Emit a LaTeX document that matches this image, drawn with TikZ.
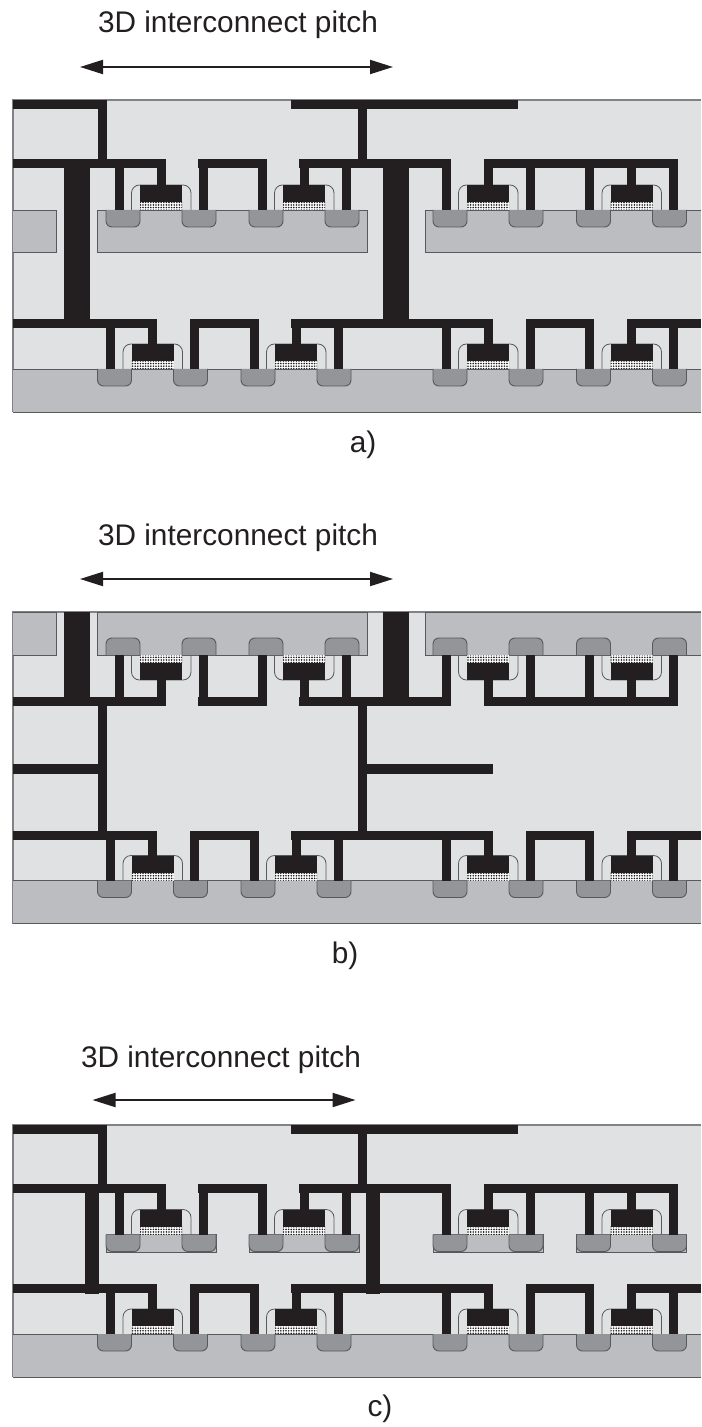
\documentclass[tikz,border=0pt]{standalone}
\usepackage{fontspec}
\setmainfont{Liberation Sans}
\usepackage{xcolor}
\usetikzlibrary{arrows.meta, patterns.meta}
\definecolor{metalblack}{RGB}{35,31,32}
\definecolor{oxidegray}{RGB}{224,225,227}
\definecolor{wafergray}{RGB}{188,189,192}
\definecolor{dopedgray}{RGB}{148,149,152}
\definecolor{edgegray}{RGB}{88,89,91}
\definecolor{bordergray}{RGB}{128,130,133}

% x0, surface, direction into the silicon, outer edge of the wire
\newcommand{\fet}[4]{%
  \draw[spacer] (#1+25.5,#2) -- (#1+25.5,#2-#3*25) -- (#1+85,#2-#3*25) -- (#1+85,#2);
  \foreach \sdx in {#1,#1+76} {
    \draw[doped] (\sdx,#2) -- (\sdx,#2+#3*17) -- (\sdx+34,#2+#3*17) -- (\sdx+34,#2);
  }
  \fill[metal] (#1+34,#2-#3*8) rectangle (#1+76,#2-#3*25);
  \fill[dielectric] (#1+34,#2) rectangle (#1+76,#2-#3*8);
  \fill[metal] (#1+8.5,#2) rectangle (#1+17.5,#4);
  \fill[metal] (#1+50.5,#2-#3*25) rectangle (#1+59.5,#4);
  \fill[metal] (#1+92.5,#2) rectangle (#1+101.5,#4);
}
% top edge, bottom edge of the oxide
\newcommand{\panelbox}[2]{%
  \fill[oxidegray] (13,#1) rectangle (701,#2);
  \draw[border] (13,#2) -- (13,#1) -- (701,#1);
}
% wafer and devices at the bottom, in the coordinates of panel a
\newcommand{\lowertier}{%
  \fill[wafergray] (13,369) rectangle (701,412);
  \draw[waferedge] (13,369) -- (701,369);
  \draw[waferedge] (13,412) -- (701,412);
  \foreach \xf in {97.5,241,433,576.5} {\fet{\xf}{369}{1}{319}}
  \foreach \xa/\xb in {13/157,190/258,291/493,526/594,627/701} {
    \fill[metal] (\xa,319) rectangle (\xb,328.3);
  }
}
% wires of the upper devices, #1 is the upper edge
\newcommand{\upperwires}[1]{%
  \foreach \xa/\xb in {13/165,198/266.5,299/451,484/678} {
    \fill[metal] (\xa,#1) rectangle (\xb,#1+9.3);
  }
}

\begin{document}
\begin{tikzpicture}[
  x=0.5pt, y=-0.5pt,
  metal/.style={fill=metalblack},
  doped/.style={draw=edgegray, line width=0.45pt, fill=dopedgray, rounded corners=3pt},
  spacer/.style={draw=edgegray, line width=0.4pt, rounded corners=4pt},
  dielectric/.style={pattern={Dots[distance=1.3pt,radius=0.45pt]}, pattern color=metalblack,
                     preaction={fill=white}},
  waferedge/.style={draw=edgegray, line width=0.45pt},
  border/.style={draw=bordergray, line width=0.6pt},
  pitcharrow/.style={{Stealth[length=11.5pt,width=7pt,inset=0pt]}-{Stealth[length=11.5pt,width=7pt,inset=0pt]},
                     line width=1pt, metalblack},
  pitchlabel/.style={anchor=base, inner sep=0pt, font=\fontsize{14.9}{18}\selectfont, text=metalblack},
  tag/.style={anchor=base, inner sep=0pt, font=\fontsize{14.9}{18}\selectfont, text=metalblack}
]
\useasboundingbox (0,0) rectangle (701,1427);

% Panel a
\node[pitchlabel] (pitcha) at (238,33) {3D interconnect pitch};
\coordinate (pitchaL) at (80,67);
\coordinate (pitchaR) at (393,67);
\draw[pitcharrow] (pitchaL) -- (pitchaR);

\panelbox{100}{412}
\fill[wafergray] (13,210) rectangle (56,252);
\draw[waferedge] (13,210) -- (56,210) -- (56,252) -- (13,252);
\draw[waferedge, fill=wafergray] (97.5,210) rectangle (367,252);
\fill[wafergray] (425.5,210) rectangle (701,252);
\draw[waferedge] (701,210) -- (425.5,210) -- (425.5,252) -- (701,252);
\foreach \xf in {106,249,433,576.5} {\fet{\xf}{210}{1}{159}}
\upperwires{159}
\fill[metal] (13,100) rectangle (107,109.3);
\fill[metal] (291,100) rectangle (518,109.3);
\fill[metal] (98,100) rectangle (107,160);
\fill[metal] (358,100) rectangle (367,160);
\fill[metal] (64,159) rectangle (90,325);
\fill[metal] (383,159) rectangle (409,325);
\lowertier
\node[tag] (taga) at (363,452) {a)};

% Panel b
\node[pitchlabel] (pitchb) at (238,545) {3D interconnect pitch};
\coordinate (pitchbL) at (80,579);
\coordinate (pitchbR) at (393,579);
\draw[pitcharrow] (pitchbL) -- (pitchbR);

\panelbox{612}{923.5}
\fill[wafergray] (13,612) rectangle (56,655);
\draw[waferedge] (13,612) -- (56,612) -- (56,655) -- (13,655);
\draw[waferedge, fill=wafergray] (97.5,612) rectangle (367,655);
\fill[wafergray] (425.5,612) rectangle (701,655);
\draw[waferedge] (701,612) -- (425.5,612) -- (425.5,655) -- (701,655);
\foreach \xf in {106,249,433,576.5} {\fet{\xf}{655}{-1}{706}}
\upperwires{697}
\fill[metal] (64,612) rectangle (90,700);
\fill[metal] (383,612) rectangle (409,700);
\fill[metal] (98,705) rectangle (107,832);
\fill[metal] (358,705) rectangle (367,832);
\fill[metal] (13,764) rectangle (98,773.5);
\fill[metal] (367,764) rectangle (493,773.5);
\begin{scope}[shift={(0,511.5)}]
  \lowertier
\end{scope}
\node[tag] (tagb) at (345,963.5) {b)};

% Panel c
\node[pitchlabel] (pitchc) at (221,1067) {3D interconnect pitch};
\coordinate (pitchcL) at (92.5,1100);
\coordinate (pitchcR) at (355.5,1100);
\draw[pitcharrow] (pitchcL) -- (pitchcR);

\panelbox{1125}{1377}
\foreach \xf in {106,249,433,576.5} {
  \draw[waferedge, fill=wafergray] (\xf,1234.5) rectangle (\xf+110,1252);
  \fet{\xf}{1234.5}{1}{1184}
}
\upperwires{1184}
\fill[metal] (13,1125) rectangle (107,1134.3);
\fill[metal] (291,1125) rectangle (518,1134.3);
\fill[metal] (98,1125) rectangle (107,1185);
\fill[metal] (358,1125) rectangle (367,1185);
\fill[metal] (85,1184) rectangle (99,1294);
\fill[metal] (366,1184) rectangle (380,1294);
\begin{scope}[shift={(0,965)}]
  \lowertier
\end{scope}
\node[tag] (tagc) at (380,1416) {c)};
\end{tikzpicture}
\end{document}
